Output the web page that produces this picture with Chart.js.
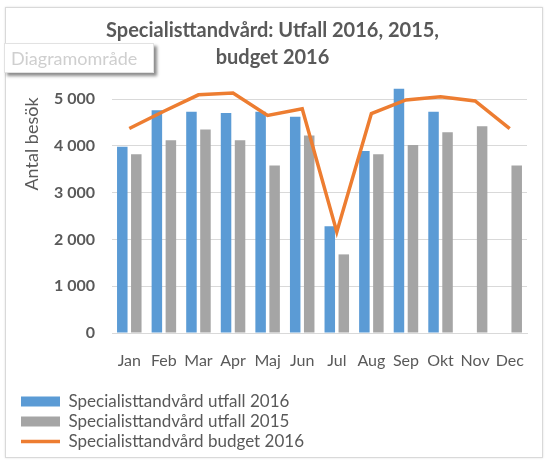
<!DOCTYPE html>
<html>
<head>
<meta charset="utf-8">
<script src="https://cdn.jsdelivr.net/npm/chart.js@4.4.1/dist/chart.umd.min.js"></script>
<style>
  html, body { margin: 0; padding: 0; background: #fff; }
  #wrap { position: relative; width: 550px; height: 465px; overflow: hidden; }
  #frame { position: absolute; left: 5px; top: 7px; width: 536px; height: 449px;
           border: 1px solid #d9d9d9; box-shadow: 0 0 2px rgba(0,0,0,.12); }
  #c { position: absolute; left: 0; top: 0; }
  #tip { position: absolute; left: 4px; top: 43px; width: 150px; height: 30px;
         background: #fff; border: 1px solid #e2e2e2; box-shadow: 3px 3px 3px rgba(0,0,0,.45);
         font: 18px Lato, sans-serif; color: #cfcfcf; line-height: 29px; padding-left: 6px; box-sizing: border-box; }
</style>
</head>
<body>
<div id="wrap">
  <div id="frame"></div>
  <canvas id="c" width="550" height="465"></canvas>
  <div id="tip">Diagramområde</div>
</div>
<script>
// ── data ──────────────────────────────────────────────
const months     = ['Jan', 'Feb', 'Mar', 'Apr', 'Maj', 'Jun', 'Jul', 'Aug', 'Sep', 'Okt', 'Nov', 'Dec'];
const utfall2016 = [3980, 4760, 4730, 4700, 4730, 4620, 2280, 3890, 5220, 4730, null, null];
const utfall2015 = [3820, 4120, 4350, 4120, 3580, 4220, 1680, 3820, 4020, 4290, 4420, 3580];
const budget2016 = [4370, 4740, 5090, 5130, 4650, 4790, 2160, 4690, 4980, 5050, 4960, 4370];
const yTicks     = [0, 1000, 2000, 3000, 4000, 5000];

const BLUE = '#5B9BD5', GRAY = '#A5A5A5', ORANGE = '#ED7D31', TXT = '#595959', GRID = '#D9D9D9';

Chart.defaults.font.family = 'Lato, sans-serif';
Chart.defaults.color = TXT;

const fmt = v => String(v).replace(/\B(?=(\d{3})+(?!\d))/g, ' ');

// y-axeltitel, placerad som i originalet (inte centrerad)
const yTitle = {
  id: 'yTitle',
  afterDraw(chart) {
    const ctx = chart.ctx;
    ctx.save();
    ctx.translate(32, 144);
    ctx.rotate(-Math.PI / 2);
    ctx.font = '18px Lato, sans-serif';
    ctx.fillStyle = TXT;
    ctx.textAlign = 'center';
    ctx.textBaseline = 'middle';
    ctx.fillText('Antal besök', 0, 0);
    ctx.restore();
  },
};

new Chart(document.getElementById('c'), {
  type: 'bar',
  data: {
    labels: months,
    datasets: [
      {
        label: 'Specialisttandvård utfall 2016',
        data: utfall2016,
        backgroundColor: BLUE,
        categoryPercentage: 0.81,
        barPercentage: 0.75,
        order: 1,
      },
      {
        label: 'Specialisttandvård utfall 2015',
        data: utfall2015,
        backgroundColor: GRAY,
        categoryPercentage: 0.81,
        barPercentage: 0.75,
        order: 1,
      },
      {
        type: 'line',
        label: 'Specialisttandvård budget 2016',
        data: budget2016,
        borderColor: ORANGE,
        backgroundColor: ORANGE,
        borderWidth: 3.5,
        pointRadius: 0,
        tension: 0,
        order: 0,
      },
    ],
  },
  options: {
    responsive: false,
    animation: false,
    layout: {padding: {left: 18, right: 23, top: 7, bottom: 5}},
    plugins: {
      title: {
        display: true,
        text: ['Specialisttandvård: Utfall 2016, 2015,', 'budget 2016'],
        color: TXT,
        font: {size: 20, weight: 'bold', lineHeight: 1.35},
        padding: {top: 10, bottom: 14},
      },
      legend: {
        position: 'bottom',
        align: 'start',
        labels: {
          usePointStyle: true,
          pointStyleWidth: 39,
          boxHeight: 10,
          padding: 3,
          color: TXT,
          font: {size: 17},
          generateLabels: chart => chart.data.datasets.map((d, i) => ({
            text: d.label,
            datasetIndex: i,
            fillStyle: d.type === 'line' ? ORANGE : d.backgroundColor,
            strokeStyle: d.type === 'line' ? ORANGE : d.backgroundColor,
            lineWidth: d.type === 'line' ? 3.5 : 0,
            pointStyle: d.type === 'line' ? 'line' : 'rect',
            fontColor: TXT,
          })),
        },
      },
      tooltip: {enabled: false},
    },
    scales: {
      x: {
        grid: {display: false},
        border: {display: true, color: GRID, width: 1},
        ticks: {color: TXT, font: {size: 16}, padding: 10, maxRotation: 0},
        afterFit: s => { s.height = 57; },
      },
      y: {
        min: 0,
        max: 5300,
        grid: {color: GRID, drawTicks: false},
        border: {display: false},
        ticks: {color: TXT, font: {size: 16, weight: 'bold'}, padding: 17, callback: v => fmt(v)},
        afterBuildTicks: s => { s.ticks = yTicks.map(v => ({value: v})); },
        afterFit: s => { s.width = 94; },
      },
    },
  },
  plugins: [yTitle],
});
</script>
</body>
</html>
